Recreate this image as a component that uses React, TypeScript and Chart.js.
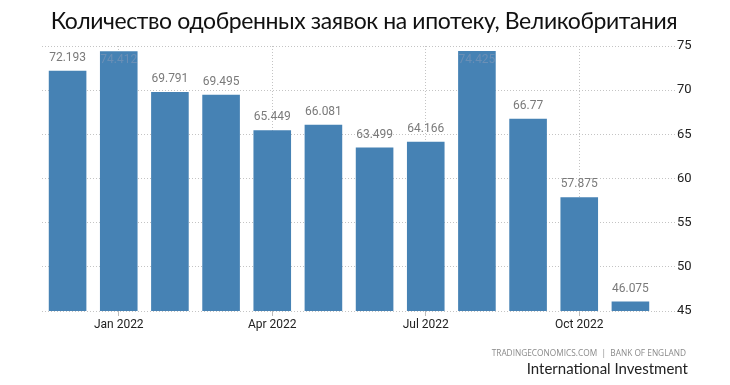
import React, { useEffect, useRef } from "react";
import { Chart, registerables } from "chart.js";

Chart.register(...registerables);

const TITLE = "Количество одобренных заявок на ипотеку, Великобритания";
const SOURCE = "TRADINGECONOMICS.COM  |  BANK OF ENGLAND";
const BRAND = "International Investment";

const categories = [
  "Dec 2021", "Jan 2022", "Feb 2022", "Mar 2022", "Apr 2022", "May 2022",
  "Jun 2022", "Jul 2022", "Aug 2022", "Sep 2022", "Oct 2022", "Nov 2022",
];
const approvals = [72.193, 74.412, 69.791, 69.495, 65.449, 66.081, 63.499, 64.166, 74.425, 66.77, 57.875, 46.075];
const shownTickIndices = [1, 4, 7, 10];
const yMin = 45;
const yMax = 75;
const yStep = 5;

const AXIS_FONT = "Roboto, 'Liberation Sans', sans-serif";
const BAR_COLOR = "#4682b4";
const GRID_COLOR = "#c4c4c4";

const valueLabels = {
  id: "valueLabels",
  afterDatasetsDraw(chart: any) {
    const ctx = chart.ctx;
    const meta = chart.getDatasetMeta(0);
    const top = chart.chartArea.top;
    ctx.save();
    ctx.font = `12px ${AXIS_FONT}`;
    ctx.textAlign = "center";
    meta.data.forEach((bar: any, i: number) => {
      const text = String(approvals[i]);
      if (bar.y - 22 < top) {
        ctx.fillStyle = "#6a8fb6";
        ctx.textBaseline = "top";
        ctx.fillText(text, bar.x, bar.y + 3);
      } else {
        ctx.fillStyle = "#7a7a7a";
        ctx.textBaseline = "bottom";
        ctx.fillText(text, bar.x, bar.y - 7);
      }
    });
    ctx.restore();
  },
};

export default function App() {
  const ref = useRef<HTMLCanvasElement | null>(null);

  useEffect(() => {
    if (!ref.current) return;
    const chart = new Chart(ref.current, {
      type: "bar",
      data: {
        labels: categories,
        datasets: [
          {
            data: approvals,
            backgroundColor: BAR_COLOR,
            borderWidth: 0,
            categoryPercentage: 1,
            barPercentage: 0.735,
          },
        ],
      },
      options: {
        animation: false,
        responsive: false,
        maintainAspectRatio: false,
        layout: { padding: { left: 42, right: 0, top: 46, bottom: 0 } },
        plugins: {
          legend: { display: false },
          tooltip: { enabled: false },
          title: { display: false },
        },
        scales: {
          x: {
            offset: true,
            border: { display: false, dash: [1, 2] },
            grid: {
              offset: false,
              color: (c: any) => (shownTickIndices.includes(c.index) ? GRID_COLOR : "transparent"),
              drawTicks: true,
              tickLength: 5,
              tickColor: (c: any) => (shownTickIndices.includes(c.index) ? "#bbbbbb" : "transparent"),
              tickBorderDash: [],
            } as any,
            ticks: {
              autoSkip: false,
              maxRotation: 0,
              padding: 2,
              color: "#222",
              font: { family: AXIS_FONT, size: 12 },
              callback: (_v: any, i: number) => (shownTickIndices.includes(i) ? categories[i] : ""),
            },
            afterFit: (s: any) => {
              s.height = 74;
            },
          },
          y: {
            position: "right",
            min: yMin,
            max: yMax,
            border: { display: false, dash: [1, 2] },
            grid: {
              color: GRID_COLOR,
              drawTicks: true,
              tickLength: 19,
              tickColor: GRID_COLOR,
              tickBorderDash: [1, 2],
            } as any,
            ticks: {
              stepSize: yStep,
              padding: 2,
              color: "#222",
              font: { family: AXIS_FONT, size: 13 },
            },
            afterFit: (s: any) => {
              s.width = 74;
            },
          },
        },
      },
      plugins: [valueLabels],
    });
    return () => chart.destroy();
  }, []);

  return (
    <div style={{ position: "absolute", left: 0, top: 0, width: 730, height: 385, background: "#fff", overflow: "hidden" }}>
      <canvas ref={ref} width={730} height={385} style={{ position: "absolute", left: 0, top: 0 }} />
      <div
        style={{
          position: "absolute",
          left: 0,
          top: 6,
          width: 728,
          textAlign: "center",
          fontFamily: "Lato, 'Open Sans', sans-serif",
          fontSize: 23,
          letterSpacing: -0.4,
          color: "#111",
          whiteSpace: "nowrap",
        }}
      >
        {TITLE}
      </div>
      <div
        style={{
          position: "absolute",
          right: 44,
          top: 347,
          fontFamily: "'Open Sans', sans-serif",
          fontSize: 8.3,
          color: "#8a8a8a",
          whiteSpace: "pre",
        }}
      >
        {SOURCE}
      </div>
      <div
        style={{
          position: "absolute",
          right: 42,
          top: 359,
          fontFamily: "Lato, 'Open Sans', sans-serif",
          fontSize: 15,
          color: "#222",
          whiteSpace: "nowrap",
        }}
      >
        {BRAND}
      </div>
    </div>
  );
}
